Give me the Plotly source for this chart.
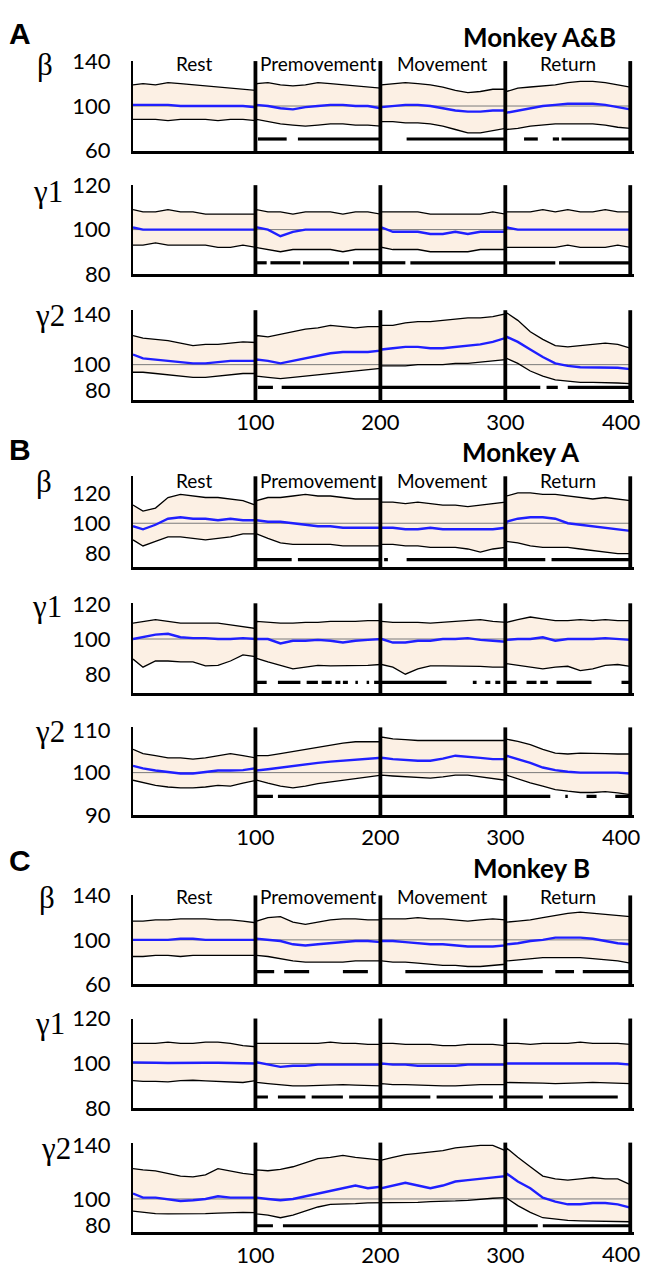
import plotly.graph_objects as go

# page is 651x1276; the html body keeps an 8px margin, so the figure itself is 635x1260
PAGE_OFF = 8
W, H = 635, 1260

# ---------------- data ----------------
# time points (4 epochs of 100 samples each)
X = [2, 10, 20, 30, 40, 50, 60, 70, 80, 90, 100,
     101, 110, 120, 130, 140, 150, 160, 170, 180, 190, 200,
     201, 210, 220, 230, 240, 250, 260, 270, 280, 290, 300,
     301, 310, 320, 330, 340, 350, 360, 370, 380, 390, 400]

EPOCHS = ["Rest", "Premovement", "Movement", "Return"]
EPOCH_BOUNDS = [100, 200, 300, 400]
XTICKS = [100, 200, 300, 400]
REF_LEVEL = 100

# ---- Monkey A&B ----
AB_beta_up = [119, 120, 119, 121, 120, 119, 118, 117, 116, 115, 114,
              120, 121, 119, 118, 119, 121, 120, 119, 118, 117, 116,
              119, 120, 121, 120, 119, 117, 114, 112, 113, 115, 115,
              113, 116, 117, 118, 119, 121, 122, 122, 121, 119, 117]
AB_beta_mean = [101, 101, 101, 101, 100, 100, 100, 100, 100, 100, 99,
                101, 100, 98, 97, 99, 100, 101, 101, 100, 100, 98,
                99, 100, 101, 101, 100, 98, 96, 95, 95, 96, 96,
                94, 96, 98, 100, 101, 102, 102, 102, 101, 99, 97]
AB_beta_lo = [88, 88, 88, 87, 88, 88, 88, 87, 88, 88, 87,
              88, 86, 84, 83, 82, 83, 84, 84, 83, 83, 82,
              86, 86, 85, 85, 84, 82, 79, 76, 76, 78, 80,
              79, 80, 82, 83, 84, 84, 84, 84, 83, 81, 80]
AB_beta_sig = [(102, 125), (134, 200), (221, 300), (315, 326), (338, 343), (345, 400)]

AB_g1_up = [109, 108, 108, 109, 108, 108, 107, 107, 107, 107, 107,
            109, 108, 108, 107, 108, 108, 108, 107, 108, 108, 107,
            108, 108, 108, 108, 107, 107, 107, 107, 107, 108, 107,
            108, 108, 108, 109, 108, 109, 108, 108, 109, 108, 108]
AB_g1_mean = [101, 100, 100, 100, 100, 100, 100, 100, 100, 100, 100,
              101, 100, 97, 99, 100, 100, 100, 100, 100, 100, 100,
              101, 99, 99, 99, 98, 98, 99, 98, 99, 99, 99,
              101, 100, 100, 100, 100, 100, 100, 100, 100, 100, 100]
AB_g1_lo = [93, 93, 94, 93, 93, 93, 93, 92, 92, 93, 92,
            92, 91, 90, 91, 91, 91, 91, 90, 91, 91, 91,
            92, 91, 91, 91, 90, 90, 90, 90, 91, 91, 91,
            92, 92, 92, 92, 92, 93, 92, 92, 92, 93, 92]
AB_g1_sig = [(101, 109), (112, 136), (138, 175), (178, 200), (201, 220),
             (224, 300), (301, 340), (343, 400)]

AB_g2_up = [123, 121, 120, 119, 117, 115, 116, 116, 117, 118, 117.5,
            123, 122, 124, 126, 128, 129, 131, 130, 129, 130, 130,
            131, 131, 133, 134, 134, 135, 136, 137, 137, 138, 140,
            141, 135, 126, 120, 115, 114, 115, 116, 117, 116, 113]
AB_g2_mean = [108, 105, 104, 103, 102, 101, 101, 102, 103, 103, 103,
              104, 103, 101, 103, 105, 107, 109, 110, 110, 110, 111,
              112, 113, 114, 114, 113, 113, 114, 115, 116, 118, 121,
              122, 118, 112, 106, 101, 99, 98, 98, 97.5, 97.5, 96.5]
AB_g2_lo = [94, 94, 93, 92, 91, 90, 90, 91, 92, 93, 93,
            91, 90, 89, 90, 91, 92, 93, 94, 95, 96, 97,
            99, 99, 99, 100, 100, 100, 101, 101, 102, 103, 104,
            105, 101, 95, 91, 88, 87, 86, 86, 86, 85.5, 85]
AB_g2_sig = [(102, 114), (121, 328), (333, 342), (350, 400)]

# ---- Monkey A ----
A_beta_up = [112, 108, 110, 117, 119, 118, 117, 117, 116, 115, 112,
             115, 117, 117, 118, 119, 118, 118, 117, 116, 116, 116,
             114, 114, 113, 114, 113, 112, 112, 111, 112, 113, 114,
             118, 120, 120, 119, 119, 118, 117, 116, 117, 116, 115]
A_beta_mean = [98, 96, 99, 103, 104, 103, 103, 102, 103, 102, 102,
               102, 101, 101, 100, 99, 98, 98, 97, 97, 97, 97,
               97, 97, 96, 96, 97, 96, 96, 96, 96, 96, 97,
               101, 103, 104, 104, 103, 100, 99, 98, 97, 96, 95]
A_beta_lo = [89, 85, 88, 91, 91, 90, 89, 90, 91, 93, 93,
             93, 90, 87, 86, 86, 86, 86, 85, 85, 85, 85,
             86, 86, 85, 85, 84, 84, 84, 83, 81, 83, 84,
             88, 87, 85, 84, 84, 84, 83, 82, 81, 80, 80]
A_beta_sig = [(101, 129), (134, 200), (203, 206), (221, 300), (302, 332), (337, 400)]

A_g1_up = [109, 110, 111, 110, 109, 109, 109, 109, 108, 107, 106,
           110, 109.5, 109, 109, 109.5, 109.5, 110, 110, 110, 110.5, 110.5,
           110, 109.5, 109.5, 109.5, 109, 109.5, 110, 110.5, 111, 110, 109.5,
           109.5, 111, 112.5, 111.5, 110.5, 110.5, 111, 110.5, 111, 110.5, 110.5]
A_g1_mean = [100, 101, 102.5, 103, 101, 100.5, 100.5, 100, 100, 100.5, 100,
             100, 100, 97.5, 99, 99, 99.5, 99, 98, 99, 99.5, 100,
             100, 98, 98, 99, 99, 100, 100, 100.5, 99.5, 99, 98.5,
             99.5, 100, 100, 101, 99, 100, 100, 100, 100.5, 100, 99.5]
A_g1_lo = [88.6, 84, 87.5, 87.5, 87, 87, 84.7, 85, 87.5, 91, 90,
           89, 87, 85, 83, 84, 85, 84.7, 84.7, 84.7, 85, 85.5,
           85.5, 84, 80, 83, 84.7, 84.7, 84.7, 84.7, 84.5, 84, 84,
           86, 85, 84, 83, 84, 84.5, 82, 83, 85, 85.5, 84.5]
A_g1_sig = [(101, 109), (118, 136), (141, 150), (153, 161), (164, 168), (170, 174),
            (180, 182), (189, 191), (195, 253), (274, 277), (284, 288), (292, 296),
            (301, 309), (317, 325), (328, 334), (341, 369), (393, 400)]

A_g2_up = [105.5, 104.5, 104, 103.5, 103.5, 103.2, 103.5, 104, 104.5, 104, 103.5,
           104, 104, 104.5, 105, 105.5, 106, 106.5, 107, 107.3, 107.3, 107.3,
           108.4, 108, 107.8, 107.6, 107.6, 107.6, 107.7, 107.6, 107.6, 107.6, 107.6,
           107.9, 107.4, 106.6, 105.5, 104.6, 104.4, 104.6, 104.6, 104.5, 104.4, 104.4]
A_g2_mean = [101.6, 101, 100.5, 100.2, 99.8, 99.8, 100.2, 100.5, 100.5, 100.6, 101,
             100.5, 100.8, 101.2, 101.6, 102, 102.3, 102.6, 102.8, 103, 103.2, 103.5,
             103.5, 103.2, 103, 102.8, 102.8, 103.3, 104, 103.8, 103.5, 103.2, 103.2,
             104, 103.2, 102.3, 101.2, 100.6, 100.2, 100, 100, 100, 100, 99.8]
A_g2_lo = [98.2, 97.6, 97, 96.6, 96.4, 96.4, 96.6, 97, 96.8, 97.5, 98.2,
           98.2, 97.5, 96.8, 96.4, 96.8, 97.4, 97.8, 98.2, 98.6, 99, 99.4,
           99.4, 99.2, 99, 98.8, 98.7, 99, 99.4, 99.4, 99, 98.5, 98.2,
           99.4, 98.5, 97.6, 96.8, 96, 95.6, 95.3, 95.3, 95.5, 95.2, 94.8]
A_g2_sig = [(101, 114), (118, 336), (348, 350), (365, 373), (388, 400)]

# ---- Monkey B ----
B_beta_up = [117, 117, 118, 118, 119, 119, 119, 118, 118, 117, 115.5,
             117, 120, 121, 116, 114, 116, 118, 119, 119, 118, 118,
             119, 119, 119, 120, 119, 119, 118, 117, 118, 119, 118,
             116, 117, 118, 120, 122, 124, 125, 124, 123, 122, 121]
B_beta_mean = [100, 100, 100, 100, 101, 101, 100, 100, 100, 100, 100,
               101, 100, 99, 96, 95, 96, 97, 98, 99, 99, 98,
               99, 99, 98, 97, 96, 96, 95, 94, 94, 94, 95,
               96, 97, 99, 100, 102, 102, 102, 101, 99, 97, 96]
B_beta_lo = [85, 85, 86, 86, 85, 86, 86, 86, 86, 86, 86,
             86, 85, 83, 81, 80, 80, 80, 80, 81, 81, 81,
             81, 80, 80, 79, 78, 77, 77, 76, 76, 77, 78,
             81, 82, 83, 84, 84, 84, 84, 83, 82, 81, 79]
B_beta_sig = [(101, 115), (123, 143), (170, 190), (220, 300), (301, 330),
              (340, 355), (362, 400)]

B_g1_up = [109, 109, 109, 109.5, 109, 109, 109.5, 109.5, 109, 108, 107.5,
           109, 109, 109, 109, 109, 109, 109.5, 109, 109, 108.5, 108.5,
           109, 109, 108.5, 108.5, 108.5, 108, 108, 108.5, 108.5, 108.5, 108,
           109, 109, 108.5, 109, 109, 109, 109.5, 109, 109, 109, 108.5]
B_g1_mean = [100.5, 100.3, 100.3, 100.2, 100.3, 100.5, 100.3, 100.3, 100.2, 100, 100,
             100.5, 99.5, 98.5, 99, 99, 99.5, 99.5, 99.5, 99.5, 99.5, 99.5,
             100, 99.5, 99.5, 99, 99, 99, 99, 99.5, 99.5, 99.5, 99.5,
             100, 100, 100, 100, 100, 100, 100, 100, 100, 100, 99.5]
B_g1_lo = [92.3, 92, 92, 91.8, 92.3, 92.5, 92.2, 92, 91.8, 91.5, 92.3,
           91.5, 91, 90.5, 90, 90, 90.2, 90.3, 90.5, 90.3, 90.3, 90,
           91, 90.5, 90.5, 90.3, 90, 90, 90, 90.3, 90.5, 90.5, 90.5,
           91.5, 91.5, 91.5, 91.2, 91, 91, 91.3, 91.5, 91.3, 91, 91]
B_g1_sig = [(101, 110), (118, 140), (145, 170), (175, 200), (201, 240),
            (245, 290), (295, 330), (335, 390)]

B_g2_up = [122.6, 121.6, 121, 119, 117, 116.5, 118, 122.6, 121, 119, 118,
           121.6, 121, 122, 124, 127, 130, 131, 132.5, 131, 130, 129,
           129, 131, 133, 134, 135, 136, 138, 139, 140, 140, 136,
           138, 131, 124, 117, 115, 114, 115, 116, 115, 115, 110.7]
B_g2_mean = [104, 101, 101, 100, 98.5, 99, 100, 102, 101, 101, 100.7,
             101, 100, 99, 100, 102, 104, 106, 108, 110, 108, 109,
             108, 110, 112, 110, 108, 110, 113, 114, 115, 116, 117,
             119, 113, 108, 101, 98, 96, 96, 97, 97, 96, 93.5]
B_g2_lo = [91, 90, 89, 88.8, 88.8, 88.8, 89, 89.5, 90, 90, 89.8,
           88.8, 88, 86, 88, 91, 94, 96, 96, 96.5, 97, 97,
           97, 97, 97.5, 97.5, 98, 98, 98.5, 99, 100, 100.5, 101,
           100.7, 95, 90, 86, 85, 84, 83.7, 83.5, 83.5, 83.2, 83]
B_g2_sig = [(101, 114), (122, 326), (330, 400)]

# ---------------- layout geometry (page pixels) ----------------
X_LEFT, X_RIGHT = 133, 634
XRANGE = [2, 403]

panels = [
    # (upper, mean, lower, sig, sig_level, top_px, bottom_px, yrange, yticks, label, show_x)
    (AB_beta_up, AB_beta_mean, AB_beta_lo, AB_beta_sig, 70.5, 48, 140, [59.8, 140.2], [60, 100, 140], "β", False),
    (AB_g1_up, AB_g1_mean, AB_g1_lo, AB_g1_sig, 85, 175, 266, [79.9, 120.1], [80, 100, 120], "γ1", False),
    (AB_g2_up, AB_g2_mean, AB_g2_lo, AB_g2_sig, 82, 303, 395, [72, 143], [80, 100, 140], "γ2", True),
    (A_beta_up, A_beta_mean, A_beta_lo, A_beta_sig, 76, 473, 566, [71, 131], [80, 100, 120], "β", False),
    (A_g1_up, A_g1_mean, A_g1_lo, A_g1_sig, 75.3, 603, 695, [69.2, 120.3], [80, 100, 120], "γ1", False),
    (A_g2_up, A_g2_mean, A_g2_lo, A_g2_sig, 94.4, 730, 820, [89.9, 110.7], [90, 100, 110], "γ2", True),
    (B_beta_up, B_beta_mean, B_beta_lo, B_beta_sig, 71.4, 902, 993, [59.9, 140.1], [60, 100, 140], "β", False),
    (B_g1_up, B_g1_mean, B_g1_lo, B_g1_sig, 85, 1028, 1120, [79.9, 120.1], [80, 100, 120], "γ1", False),
    (B_g2_up, B_g2_mean, B_g2_lo, B_g2_sig, 80, 1155, 1247, [75, 142], [80, 100, 140], "γ2", True),
]
label_pos = [(45, 52), (48, 181), (50, 308), (44, 478), (47, 606), (50, 734), (47, 904), (50, 1033), (56, 1161)]

FILL = "#fcf0e4"
BLUE = "#1f1fff"
TICKFONT = dict(family="Lato, Carlito, 'Open Sans', sans-serif", size=22, color="black")


def fx(p):
    return (p - PAGE_OFF) / W


def fy(p):
    return 1 - (p - PAGE_OFF) / H


fig = go.Figure()
layout = dict(width=W, height=H, margin=dict(l=0, r=0, t=0, b=0, pad=0),
              paper_bgcolor="white", plot_bgcolor="white", showlegend=False)
shapes, annotations = [], []

for i, (up, mean, lo, sig, siglev, top, bot, yr, yt, lab, showx) in enumerate(panels):
    n = i + 1
    key = "" if n == 1 else str(n)
    xa, ya = "x" + key, "y" + key
    # band fill
    fig.add_trace(go.Scatter(x=X + X[::-1], y=up + lo[::-1], fill="toself", fillcolor=FILL,
                             line=dict(width=0), mode="lines", hoverinfo="skip",
                             xaxis=xa, yaxis=ya))
    # reference level
    fig.add_trace(go.Scatter(x=[XRANGE[0], EPOCH_BOUNDS[-1]], y=[REF_LEVEL, REF_LEVEL], mode="lines",
                             line=dict(color="#7a7a7a", width=1), xaxis=xa, yaxis=ya))
    # bounds
    for s in (up, lo):
        fig.add_trace(go.Scatter(x=X, y=s, mode="lines", line=dict(color="black", width=1.3),
                                 xaxis=xa, yaxis=ya))
    # mean
    fig.add_trace(go.Scatter(x=X, y=mean, mode="lines", line=dict(color=BLUE, width=2.4),
                             xaxis=xa, yaxis=ya))
    # significance bars
    sx, sy = [], []
    for a, b in sig:
        sx += [a, b, None]
        sy += [siglev, siglev, None]
    fig.add_trace(go.Scatter(x=sx, y=sy, mode="lines", line=dict(color="black", width=3.2),
                             xaxis=xa, yaxis=ya))

    # the last tick label (400) sits at the right page edge; it is written as an annotation
    layout["xaxis" + key] = dict(domain=[fx(X_LEFT), fx(X_RIGHT)], range=XRANGE, anchor=ya,
                                 showline=True, linecolor="black", linewidth=2.5,
                                 showgrid=False, zeroline=False, ticks="",
                                 tickvals=XTICKS[:-1], showticklabels=showx, tickfont=TICKFONT,
                                 ticklabelstandoff=1)
    layout["yaxis" + key] = dict(domain=[fy(bot), fy(top)], range=yr, anchor=xa,
                                 showline=True, linecolor="black", linewidth=2,
                                 showgrid=False, zeroline=False, ticks="",
                                 tickvals=yt, tickfont=TICKFONT, ticklabelstandoff=16)
    if showx:
        annotations.append(dict(text=str(XTICKS[-1]), x=1.0, y=0, xref="paper", yref=ya + " domain",
                                xanchor="right", yanchor="top", yshift=-6, showarrow=False,
                                font=TICKFONT))
    for b in EPOCH_BOUNDS:
        shapes.append(dict(type="line", xref=xa, yref=ya + " domain", x0=b, x1=b, y0=0, y1=1,
                           line=dict(color="black", width=3.8), layer="above"))
    lx, ly = label_pos[i]
    annotations.append(dict(text=lab, x=fx(lx), y=fy(ly), xref="paper", yref="paper",
                            showarrow=False, xanchor="center", yanchor="middle",
                            font=dict(family="Liberation Serif, DejaVu Serif, serif", size=31, color="black")))

# epoch titles
EP_FONT = dict(family="Lato, Carlito, sans-serif", size=19, color="black")
for ytop in (50, 477, 903):
    for name, cx, anc in zip(EPOCHS, [194, 258, 442, 568], ["center", "left", "center", "center"]):
        annotations.append(dict(text=name, x=fx(cx), y=fy(ytop), xref="paper", yref="paper",
                                showarrow=False, xanchor=anc, yanchor="middle", font=EP_FONT))

# panel letters and titles
for letter, lx, ly in (("A", 20, 20), ("B", 20, 446), ("C", 20, 866)):
    annotations.append(dict(text=f"<b>{letter}</b>", x=fx(lx), y=fy(ly), xref="paper", yref="paper",
                            showarrow=False, xanchor="center", yanchor="middle",
                            font=dict(family="Liberation Sans, Arial, sans-serif", size=30, color="black")))
for title, rx, ty in (("Monkey A&B", 618, 23), ("Monkey A", 582, 448), ("Monkey B", 592, 874)):
    annotations.append(dict(text=f"<b>{title}</b>", x=fx(rx), y=fy(ty), xref="paper", yref="paper",
                            showarrow=False, xanchor="right", yanchor="middle",
                            font=dict(family="Lato, Carlito, sans-serif", size=26, color="black")))

layout["shapes"] = shapes
layout["annotations"] = annotations
fig.update_layout(**layout)
fig.write_html("out.html")
